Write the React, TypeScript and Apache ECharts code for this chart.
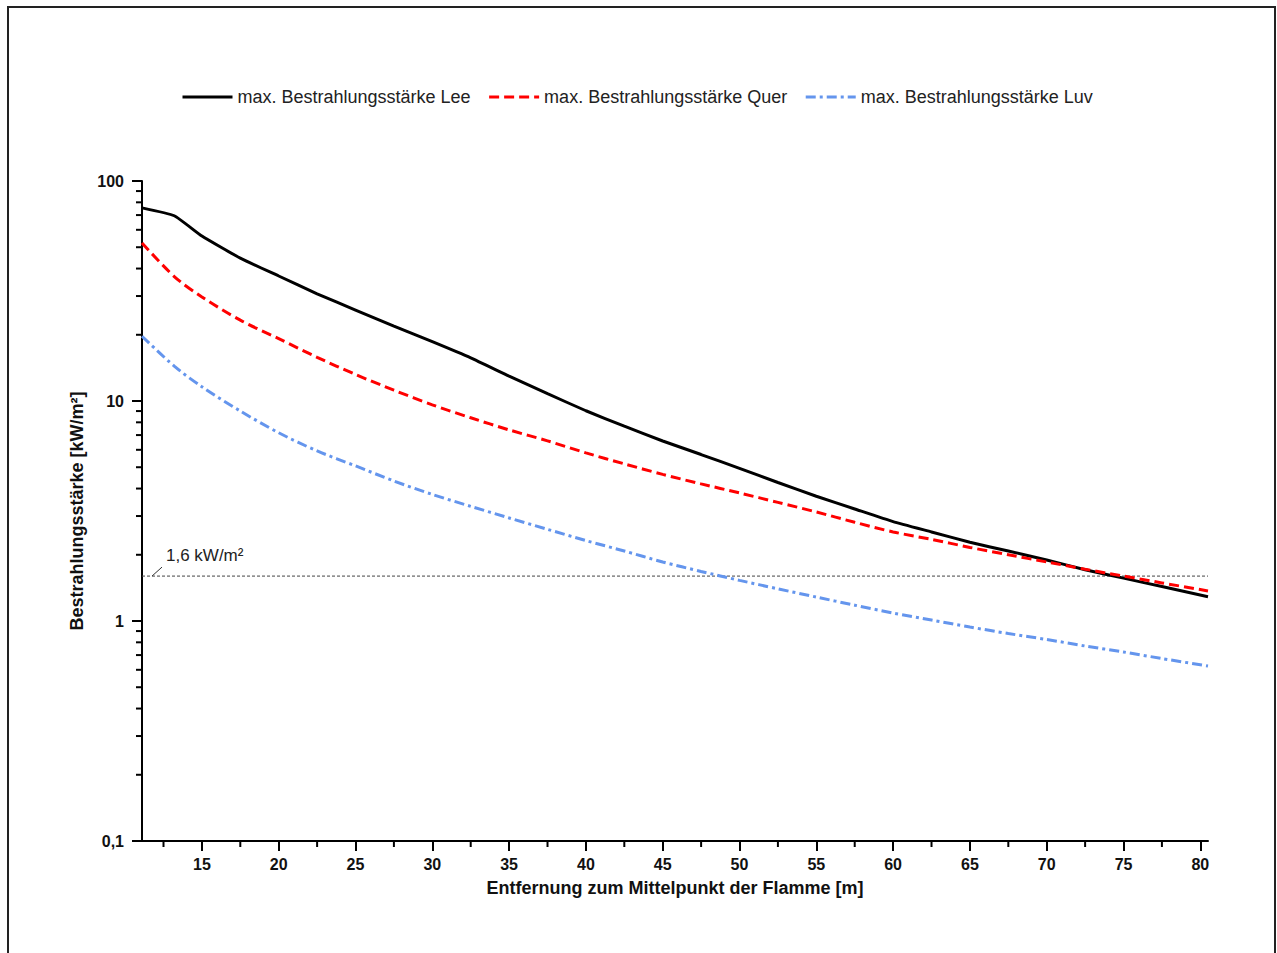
import React, { useEffect, useRef } from 'react';
import * as echarts from 'echarts';

const FONT = '"Liberation Sans", Arial, Helvetica, sans-serif';

const SERIES_NAMES = [
  'max. Bestrahlungsstärke Lee',
  'max. Bestrahlungsstärke Quer',
  'max. Bestrahlungsstärke Luv',
];
const X_NAME = 'Entfernung zum Mittelpunkt der Flamme [m]';
const Y_NAME = 'Bestrahlungsstärke [kW/m²]';

const X_VALUES = [11.1, 13.2, 15, 17.5, 20, 22.5, 25, 27.5, 30, 32.5, 35, 37.5, 40, 42.5, 45, 47.5, 50, 52.5, 55, 57.5, 60, 62.5, 65, 67.5, 70, 72.5, 75, 77.5, 80.5];
const LEE = [75.5, 69.5, 56.2, 44.6, 37.0, 30.7, 25.9, 21.9, 18.6, 15.7, 12.97, 10.8, 9.03, 7.68, 6.58, 5.71, 4.94, 4.26, 3.69, 3.23, 2.83, 2.54, 2.28, 2.08, 1.894, 1.71, 1.566, 1.434, 1.29];
const QUER = [52.3, 36.8, 29.7, 23.3, 19.2, 15.8, 13.2, 11.2, 9.61, 8.39, 7.39, 6.59, 5.81, 5.18, 4.64, 4.2, 3.82, 3.46, 3.13, 2.81, 2.54, 2.35, 2.16, 2.0, 1.855, 1.72, 1.6, 1.49, 1.37];
const LUV = [19.7, 14.4, 11.6, 9.0, 7.17, 5.93, 5.07, 4.33, 3.76, 3.32, 2.94, 2.61, 2.32, 2.08, 1.855, 1.68, 1.53, 1.4, 1.285, 1.18, 1.087, 1.01, 0.939, 0.877, 0.824, 0.77, 0.723, 0.675, 0.624];

const X_MIN = 11.1;
const X_MAX = 80.5;
const X_MAJOR_TICKS = [15, 20, 25, 30, 35, 40, 45, 50, 55, 60, 65, 70, 75, 80];
const X_MINOR_TICKS = [12.5, 17.5, 22.5, 27.5, 32.5, 37.5, 42.5, 47.5, 52.5, 57.5, 62.5, 67.5, 72.5, 77.5];
const Y_MIN = 0.1;
const Y_MAX = 100;
const Y_MINOR_TICKS = [0.2, 0.3, 0.4, 0.5, 0.6, 0.7, 0.8, 0.9, 2, 3, 4, 5, 6, 7, 8, 9, 20, 30, 40, 50, 60, 70, 80, 90];

const THRESHOLD = 1.6;
const THRESHOLD_LABEL = '1,6 kW/m²';

export default function App() {
  const ref = useRef<HTMLDivElement>(null);

  useEffect(() => {
    if (!ref.current) return;
    const chart = echarts.init(ref.current, undefined, { renderer: 'svg' });

    const toPairs = (ys: number[]) => X_VALUES.map((x, i) => [x, ys[i]]);

    const option: any = {
      animation: false,
      backgroundColor: '#ffffff',
      textStyle: { fontFamily: FONT },
      legend: {
        data: SERIES_NAMES,
        left: 167,
        top: 75,
        itemWidth: 50,
        itemHeight: 14,
        itemGap: 17,
        itemStyle: { opacity: 0 },
        lineStyle: { width: 3 },
        textStyle: { fontSize: 18, color: '#222', fontFamily: FONT },
      },
      grid: {
        left: 133,
        top: 173,
        width: 1066,
        height: 660,
        containLabel: false,
        outerBoundsMode: 'none',
      },
      xAxis: {
        type: 'value',
        min: X_MIN,
        max: X_MAX,
        name: X_NAME,
        nameLocation: 'middle',
        nameGap: 38,
        nameTextStyle: { fontSize: 18, fontWeight: 'bold', color: '#111', fontFamily: FONT },
        axisLine: { show: true, onZero: false, lineStyle: { color: '#000', width: 2 } },
        axisTick: {
          show: true,
          length: 10,
          customValues: X_MAJOR_TICKS,
          lineStyle: { color: '#000', width: 2 },
        },
        axisLabel: {
          customValues: X_MAJOR_TICKS,
          margin: 15,
          fontSize: 16,
          fontWeight: 'bold',
          color: '#111',
          fontFamily: FONT,
        },
        splitLine: { show: false },
      },
      yAxis: {
        type: 'log',
        logBase: 10,
        min: Y_MIN,
        max: Y_MAX,
        name: Y_NAME,
        nameLocation: 'middle',
        nameGap: 50,
        nameTextStyle: { fontSize: 18, fontWeight: 'bold', color: '#111', fontFamily: FONT },
        axisLine: { show: true, onZero: false, lineStyle: { color: '#000', width: 2 } },
        axisTick: { show: true, length: 10, lineStyle: { color: '#000', width: 2 } },
        axisLabel: {
          margin: 18,
          fontSize: 16,
          fontWeight: 'bold',
          color: '#111',
          fontFamily: FONT,
          formatter: (v: number) => String(Number(v.toPrecision(3))).replace('.', ','),
        },
        splitLine: { show: false },
      },
      series: [
        {
          name: SERIES_NAMES[0],
          type: 'line',
          data: toPairs(LEE),
          symbol: 'none',
          smooth: 0.15,
          lineStyle: { color: '#000', width: 3, type: 'solid' },
          itemStyle: { color: '#000' },
          z: 4,
        },
        {
          name: SERIES_NAMES[1],
          type: 'line',
          data: toPairs(QUER),
          symbol: 'none',
          smooth: 0.3,
          lineStyle: { color: '#ff0000', width: 3, type: [10, 5] },
          itemStyle: { color: '#ff0000' },
          z: 4,
        },
        {
          name: SERIES_NAMES[2],
          type: 'line',
          data: toPairs(LUV),
          symbol: 'none',
          smooth: 0.3,
          lineStyle: { color: '#6495ed', width: 3, type: [10, 4, 3, 4] },
          itemStyle: { color: '#6495ed' },
          z: 4,
        },
        {
          name: 'threshold',
          type: 'line',
          data: [[X_MIN, THRESHOLD], [X_MAX, THRESHOLD]],
          symbol: 'none',
          silent: true,
          lineStyle: { color: '#444', width: 1, type: [3, 2] },
          z: 3,
        },
        {
          name: 'thresholdLabel',
          type: 'custom',
          data: [[X_MIN, THRESHOLD]],
          clip: false,
          silent: true,
          z: 5,
          renderItem: (_p: any, api: any) => {
            const p = api.coord([api.value(0), api.value(1)]);
            return {
              type: 'group',
              children: [
                {
                  type: 'line',
                  shape: { x1: p[0] + 10, y1: p[1], x2: p[0] + 20, y2: p[1] - 9 },
                  style: { stroke: '#333', lineWidth: 1 },
                },
                {
                  type: 'text',
                  x: p[0] + 24,
                  y: p[1] - 21,
                  style: {
                    text: THRESHOLD_LABEL,
                    fill: '#222',
                    fontSize: 17,
                    fontFamily: FONT,
                    align: 'left',
                    verticalAlign: 'middle',
                  },
                },
              ],
            };
          },
        },
        {
          name: 'yMinorTicks',
          type: 'custom',
          data: Y_MINOR_TICKS.map((v) => [X_MIN, v]),
          clip: false,
          silent: true,
          z: 6,
          renderItem: (_p: any, api: any) => {
            const p = api.coord([api.value(0), api.value(1)]);
            return {
              type: 'line',
              shape: { x1: p[0] - 6, y1: p[1], x2: p[0], y2: p[1] },
              style: { stroke: '#000', lineWidth: 2 },
            };
          },
        },
        {
          name: 'xMinorTicks',
          type: 'custom',
          data: X_MINOR_TICKS.map((v) => [v, Y_MIN]),
          clip: false,
          silent: true,
          z: 6,
          renderItem: (_p: any, api: any) => {
            const p = api.coord([api.value(0), api.value(1)]);
            return {
              type: 'line',
              shape: { x1: p[0], y1: p[1], x2: p[0], y2: p[1] + 6 },
              style: { stroke: '#000', lineWidth: 2 },
            };
          },
        },
      ],
    };

    chart.setOption(option);
    return () => {
      chart.dispose();
    };
  }, []);

  return (
    <>
      <style>{'html,body{margin:0;padding:0;overflow:hidden;background:#fff;}'}</style>
      <div
        style={{
          position: 'absolute',
          left: 7,
          top: 6,
          width: 1269,
          height: 960,
          boxSizing: 'border-box',
          border: '2px solid #222',
          borderBottom: 'none',
          background: '#fff',
        }}
      >
        <div ref={ref} style={{ width: 1265, height: 958 }} />
      </div>
    </>
  );
}
